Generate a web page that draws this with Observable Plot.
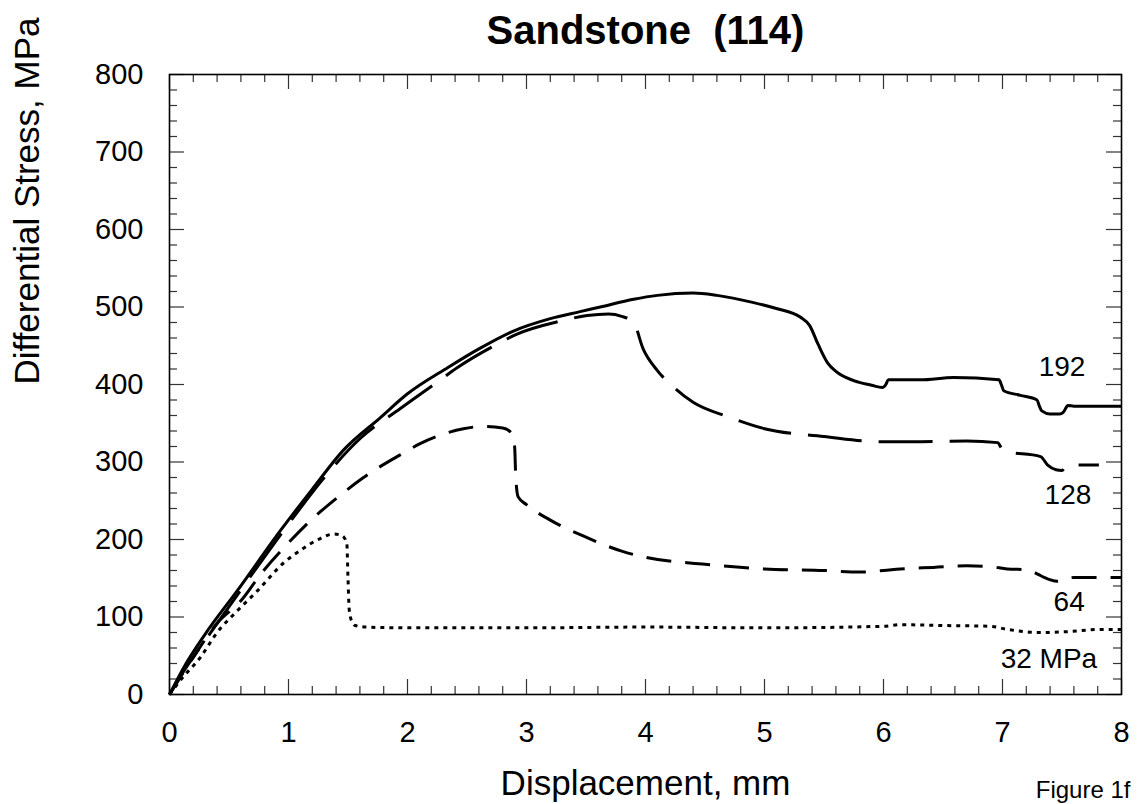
<!DOCTYPE html>
<html>
<head>
<meta charset="utf-8">
<script src="https://cdn.jsdelivr.net/npm/d3@7"></script>
<script src="https://cdn.jsdelivr.net/npm/@observablehq/plot@0.6"></script>
<style>
  html, body { margin: 0; padding: 0; background: white; }
</style>
</head>
<body>
<div id="chart"></div>
<script>
// ---- Data ----
const title = "Sandstone  (114)";
const xLabel = "Displacement, mm";
const yLabel = "Differential Stress, MPa";
const note = "Figure 1f";

const xTicks = [0, 1, 2, 3, 4, 5, 6, 7, 8];
const yTicks = [0, 100, 200, 300, 400, 500, 600, 700, 800];

// 192 MPa confining pressure (solid)
const disp192 = [0, 0.12, 0.3, 0.57, 0.93, 1.2, 1.46, 1.77, 2.0, 2.34, 2.6, 2.89, 3.2, 3.45, 3.62, 3.9, 4.1, 4.4, 4.6, 4.9, 5.1, 5.3, 5.38, 5.45, 5.53, 5.6, 5.75, 5.9, 5.99, 6.02, 6.04, 6.31, 6.59, 6.97, 6.99, 7.01, 7.15, 7.29, 7.31, 7.33, 7.40, 7.48, 7.51, 7.55, 7.6, 8.0];
const stress192 = [0, 35, 78, 134, 211, 265, 315, 357, 388, 422, 446, 469, 485, 494, 500, 510, 515, 518, 515, 506, 498, 487, 476, 452, 428, 417, 405, 399, 396, 400, 406, 406, 409, 406, 400, 392, 386, 380, 372, 366, 362, 362, 364, 373, 372, 372];

// 128 MPa (long dash)
const disp128 = [0, 0.12, 0.3, 0.6, 1.0, 1.29, 1.6, 1.94, 2.24, 2.42, 2.74, 2.92, 3.29, 3.51, 3.69, 3.8, 3.9, 3.98, 4.1, 4.24, 4.4, 4.7, 5.0, 5.5, 6.0, 6.24, 6.7, 6.96, 6.99, 7.01, 7.32, 7.38, 7.45, 7.50, 7.54, 7.81];
const stress128 = [0, 30, 70, 135, 220, 278, 330, 369, 402, 422, 451, 465, 482, 489, 491, 488, 480, 446, 418, 396, 377, 358, 343, 333, 326, 326, 327, 325, 318, 314, 307, 296, 290, 289, 296, 296];

// 64 MPa (medium dash)
const disp64 = [0, 0.2, 0.4, 0.6, 0.77, 1.02, 1.21, 1.41, 1.63, 1.97, 2.11, 2.3, 2.47, 2.65, 2.8, 2.87, 2.9, 2.91, 2.93, 3.0, 3.2, 3.5, 3.8, 4.0, 4.5, 5.0, 5.5, 5.8, 6.0, 6.14, 6.42, 6.70, 6.9, 7.04, 7.21, 7.3, 7.35, 7.46, 7.55, 7.6, 8.0];
const stress64 = [0, 48, 92, 121, 156, 199, 228, 254, 280, 312, 324, 336, 343, 346, 344, 338, 320, 280, 255, 245, 225, 203, 185, 177, 168, 162, 160, 158, 160, 162, 164, 166, 165, 162, 161, 155, 151, 146, 150, 151, 151];

// 32 MPa (dotted)
const disp32 = [0, 0.1, 0.26, 0.4, 0.57, 0.74, 0.96, 1.1, 1.25, 1.38, 1.45, 1.49, 1.5, 1.51, 1.53, 1.56, 1.65, 2.0, 3.0, 4.0, 5.0, 6.0, 6.14, 6.5, 6.9, 7.04, 7.32, 7.54, 7.82, 8.0];
const stress32 = [0, 20, 48, 80, 108, 134, 170, 186, 200, 207, 205, 195, 150, 110, 95, 89, 87, 86, 86, 87, 86, 88, 90, 89, 88, 84, 80, 81, 84, 84];

// Curve labels
const labelText = ["192", "128", "64", "32 MPa"];
const labelX = [7.50, 7.55, 7.56, 7.39];
const labelY = [423, 258, 119, 46];

// ---- Build tables ----
const series = [
  {name: "192", xs: disp192, ys: stress192, dash: null},
  {name: "128", xs: disp128, ys: stress128, dash: "54,17"},
  {name: "64", xs: disp64, ys: stress64, dash: "25,14"},
  {name: "32", xs: disp32, ys: stress32, dash: "4,5"}
];
const labels = labelText.map((t, i) => ({t, x: labelX[i], y: labelY[i]}));

const xMinor = d3.range(0, 8.0001, 0.2).map(v => +v.toFixed(1)).filter(v => Math.abs(v - Math.round(v)) > 1e-6);
const yMinor = d3.range(0, 800.001, 20).filter(v => v % 100 !== 0);

const W = 1141, H = 804;
const mL = 169, mR = 20, mT = 74, mB = 110;
const fw = W - mL - mR, fh = H - mT - mB;
const tickCol = "#333";

const lineMarks = series.map(s => Plot.line(
  s.xs.map((x, i) => ({x, y: s.ys[i]})),
  {x: "x", y: "y", stroke: "black", strokeWidth: 3, strokeDasharray: s.dash, curve: "monotone-x", strokeLinecap: "butt"}
));

const chart = Plot.plot({
  width: W, height: H,
  marginLeft: mL, marginRight: mR, marginTop: mT, marginBottom: mB,
  style: {fontFamily: "'Liberation Sans', Arial, Helvetica, sans-serif", fontSize: "29px", color: "black", background: "white"},
  x: {domain: [0, 8]},
  y: {domain: [0, 800]},
  marks: [
    // tick labels
    Plot.axisX(xTicks, {tickSize: 0, tickPadding: 27, fontSize: 29, label: null, tickFormat: d => d}),
    Plot.axisY(yTicks, {tickSize: 0, tickPadding: 26, fontSize: 29, label: null, tickFormat: d => d}),
    // inward ticks: bottom & top
    Plot.tickX(xTicks, {x: d => d, insetTop: fh - 15, stroke: tickCol, strokeWidth: 1.2}),
    Plot.tickX(xMinor, {x: d => d, insetTop: fh - 8, stroke: tickCol, strokeWidth: 1.2}),
    Plot.tickX(xTicks, {x: d => d, insetBottom: fh - 15, stroke: tickCol, strokeWidth: 1.2}),
    Plot.tickX(xMinor, {x: d => d, insetBottom: fh - 8, stroke: tickCol, strokeWidth: 1.2}),
    // inward ticks: left & right
    Plot.tickY(yTicks, {y: d => d, insetRight: fw - 15, stroke: tickCol, strokeWidth: 1.2}),
    Plot.tickY(yMinor, {y: d => d, insetRight: fw - 8, stroke: tickCol, strokeWidth: 1.2}),
    Plot.tickY(yTicks, {y: d => d, insetLeft: fw - 15, stroke: tickCol, strokeWidth: 1.2}),
    Plot.tickY(yMinor, {y: d => d, insetLeft: fw - 8, stroke: tickCol, strokeWidth: 1.2}),
    Plot.frame({stroke: "black", strokeWidth: 1.6}),
    ...lineMarks,
    // curve labels
    Plot.text(labels, {x: "x", y: "y", text: "t", fontSize: 28, fill: "black", lineAnchor: "middle"}),
    // title
    Plot.text([title], {frameAnchor: "top", dy: -31, lineAnchor: "bottom", fontSize: 40, fontWeight: "bold", fill: "black"}),
    // axis titles
    Plot.text([xLabel], {frameAnchor: "bottom", dy: 100, lineAnchor: "bottom", fontSize: 35, fill: "black"}),
    Plot.text([yLabel], {frameAnchor: "left", dx: -142, rotate: -90, lineAnchor: "middle", fontSize: 35, fill: "black"}),
    // figure note at the bottom-right corner
    Plot.text([note], {frameAnchor: "bottom-right", dx: 9, dy: 103, textAnchor: "end", lineAnchor: "bottom", fontSize: 24, fill: "black"})
  ]
});
document.getElementById("chart").appendChild(chart);
</script>
</body>
</html>
